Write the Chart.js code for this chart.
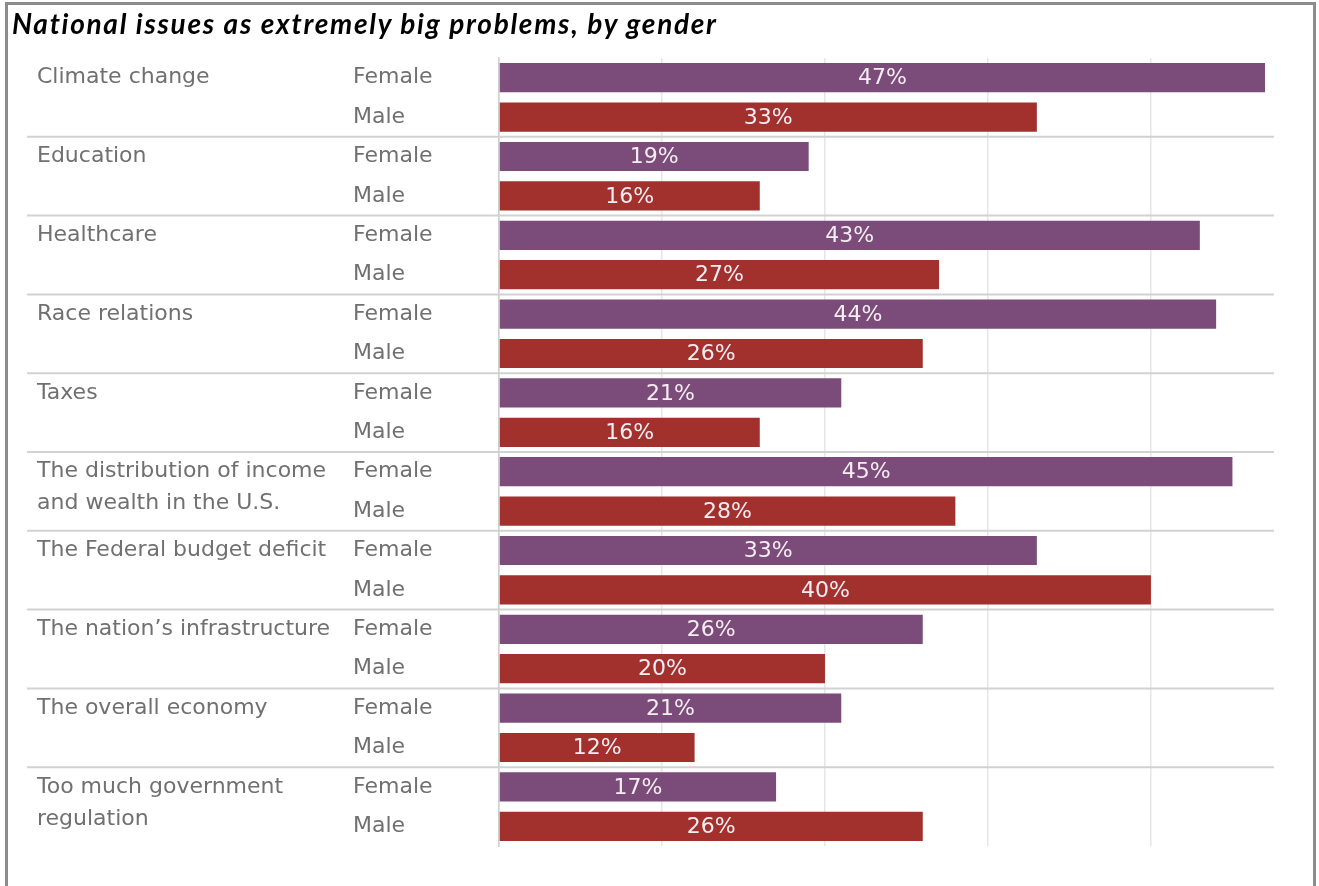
<!DOCTYPE html>
<html>
<head>
<meta charset="utf-8">
<script src="https://cdn.jsdelivr.net/npm/chart.js@4"></script>
<style>
  html, body { margin: 0; padding: 0; background: #fff; }
  #wrap { position: relative; width: 1319px; height: 886px; overflow: hidden; }
  #frame {
    position: absolute; left: 5px; top: 2px; width: 1305px; height: 900px;
    border: 3px solid #8c8c8c; border-bottom: none;
  }
  #title {
    position: absolute; left: 12px; top: 9px; margin: 0;
    font: italic bold 28px/28px Lato, sans-serif; letter-spacing: 1.7px;
    color: #000; white-space: nowrap;
  }
  #chart { position: absolute; left: 0; top: 0; }
</style>
</head>
<body>
<div id="wrap">
  <div id="frame"></div>
  <canvas id="chart" width="1319" height="886"></canvas>
  <h1 id="title">National issues as extremely big problems, by gender</h1>
</div>
<script>
const issues = [
  ['Climate change'],
  ['Education'],
  ['Healthcare'],
  ['Race relations'],
  ['Taxes'],
  ['The distribution of income', 'and wealth in the U.S.'],
  ['The Federal budget deficit'],
  ['The nation\u2019s infrastructure'],
  ['The overall economy'],
  ['Too much government', 'regulation']
];
const genders = ['Female', 'Male'];
const female = [47, 19, 43, 44, 21, 45, 33, 26, 21, 17];
const male = [33, 16, 27, 26, 16, 28, 40, 20, 12, 26];
const gridTicks = [0, 10, 20, 30, 40];

const purple = '#7b4c79';
const red = '#a2312e';
const textGrey = '#707070';
const labelFont = { family: 'DejaVu Sans', size: 22 };

// one row per issue/gender pair; each series only fills its own rows
const rowLabels = issues.flatMap(() => genders);
const femaleRows = female.flatMap(v => [v, null]);
const maleRows = male.flatMap(v => [null, v]);

// issue names to the left of the gender column, plus the row separators
const issueColumn = {
  id: 'issueColumn',
  beforeDatasetsDraw(chart) {
    const { ctx, chartArea, scales: { y } } = chart;
    ctx.save();
    ctx.strokeStyle = '#d2d2d2';
    ctx.lineWidth = 2;
    for (let i = 1; i < issues.length; i++) {
      const yy = (y.getPixelForValue(2 * i - 1) + y.getPixelForValue(2 * i)) / 2;
      ctx.beginPath();
      ctx.moveTo(27, yy);
      ctx.lineTo(chartArea.right, yy);
      ctx.stroke();
    }
    ctx.fillStyle = textGrey;
    ctx.font = `${labelFont.size}px ${labelFont.family}`;
    ctx.textAlign = 'left';
    ctx.textBaseline = 'middle';
    issues.forEach((lines, i) => {
      const top = y.getPixelForValue(2 * i);
      lines.forEach((line, j) => ctx.fillText(line, 37, top + j * 32));
    });
    ctx.restore();
  }
};

// percentage printed in the middle of each bar
const barValues = {
  id: 'barValues',
  afterDatasetsDraw(chart) {
    const { ctx } = chart;
    ctx.save();
    ctx.fillStyle = '#f6edf3';
    ctx.font = '22px DejaVu Sans';
    ctx.textAlign = 'center';
    ctx.textBaseline = 'middle';
    chart.data.datasets.forEach((ds, di) => {
      chart.getDatasetMeta(di).data.forEach((bar, i) => {
        const v = ds.data[i];
        if (v == null) return;
        ctx.fillText(v + '%', (bar.x + bar.base) / 2, bar.y + 1);
      });
    });
    ctx.restore();
  }
};

new Chart(document.getElementById('chart'), {
  type: 'bar',
  data: {
    labels: rowLabels,
    datasets: [
      { label: 'Female', data: femaleRows, backgroundColor: purple },
      { label: 'Male', data: maleRows, backgroundColor: red }
    ]
  },
  options: {
    indexAxis: 'y',
    responsive: false,
    animation: false,
    grouped: false,
    skipNull: true,
    barPercentage: 0.74,
    categoryPercentage: 1,
    layout: { padding: { left: 353, top: 58, right: 45, bottom: 40 } },
    plugins: {
      legend: { display: false },
      tooltip: { enabled: false }
    },
    scales: {
      x: {
        min: 0,
        max: 47.55,
        afterBuildTicks: scale => { scale.ticks = gridTicks.map(v => ({ value: v })); },
        ticks: { display: false },
        grid: { color: '#e6e6e6', lineWidth: 1.5, drawTicks: false },
        border: { display: false }
      },
      y: {
        afterFit: scale => { scale.width = 146; },
        ticks: { crossAlign: 'far', color: textGrey, font: labelFont, padding: 0 },
        grid: { display: false, drawTicks: false },
        border: { display: true, color: '#cfcfcf', width: 1.5 }
      }
    }
  },
  plugins: [issueColumn, barValues]
});
</script>
</body>
</html>
